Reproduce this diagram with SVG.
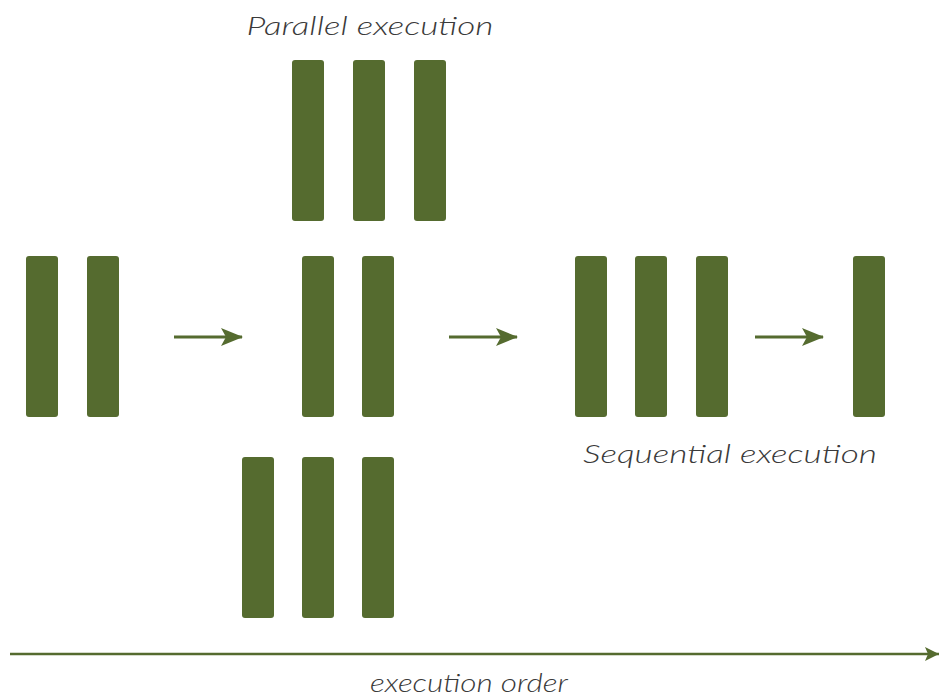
<svg xmlns="http://www.w3.org/2000/svg" width="940" height="698" viewBox="0 0 940 698">
  <style>
    .bar { fill: #556b2f; }
    .lbl { font-family: Lato, "Open Sans", sans-serif; font-style: italic; font-weight: 300; font-size: 26px; fill: #3a3a3a; }
    .flow { stroke: #556b2f; stroke-width: 3; fill: none; }
    .axis { stroke: #556b2f; stroke-width: 2.5; fill: none; }
  </style>
  <defs>
    <marker id="head" viewBox="0 0 22 18" refX="21" refY="9" markerWidth="22" markerHeight="18" markerUnits="userSpaceOnUse" orient="auto">
      <path d="M0,0 L22,9 L0,18 L5,9 Z" fill="#556b2f"/>
    </marker>
    <marker id="axishead" viewBox="0 0 14 14" refX="14" refY="7" markerWidth="14" markerHeight="14" markerUnits="userSpaceOnUse" orient="auto">
      <path d="M0,0 L14,7 L0,14 L3,7 Z" fill="#556b2f"/>
    </marker>
  </defs>

  <!-- labels -->
  <text class="lbl" x="370" y="35" text-anchor="middle" textLength="247" lengthAdjust="spacingAndGlyphs">Parallel execution</text>
  <text class="lbl" x="730" y="463" text-anchor="middle" textLength="294" lengthAdjust="spacingAndGlyphs">Sequential execution</text>
  <text class="lbl" x="469" y="692" text-anchor="middle" textLength="198" lengthAdjust="spacingAndGlyphs">execution order</text>

  <!-- stage 1: two tasks -->
  <g id="stage1">
    <rect class="bar" x="26" y="256" width="32" height="161" rx="3"/>
    <rect class="bar" x="87" y="256" width="32" height="161" rx="3"/>
  </g>

  <!-- stage 2: parallel groups -->
  <g id="parallel-top">
    <rect class="bar" x="292" y="60" width="32" height="161" rx="3"/>
    <rect class="bar" x="353" y="60" width="32" height="161" rx="3"/>
    <rect class="bar" x="414" y="60" width="32" height="161" rx="3"/>
  </g>
  <g id="parallel-middle">
    <rect class="bar" x="302" y="256" width="32" height="161" rx="3"/>
    <rect class="bar" x="362" y="256" width="32" height="161" rx="3"/>
  </g>
  <g id="parallel-bottom">
    <rect class="bar" x="242" y="457" width="32" height="161" rx="3"/>
    <rect class="bar" x="302" y="457" width="32" height="161" rx="3"/>
    <rect class="bar" x="362" y="457" width="32" height="161" rx="3"/>
  </g>

  <!-- stage 3: sequential group -->
  <g id="sequential">
    <rect class="bar" x="575" y="256" width="32" height="161" rx="3"/>
    <rect class="bar" x="635" y="256" width="32" height="161" rx="3"/>
    <rect class="bar" x="696" y="256" width="32" height="161" rx="3"/>
  </g>

  <!-- stage 4: single task -->
  <g id="stage4">
    <rect class="bar" x="853" y="256" width="32" height="161" rx="3"/>
  </g>

  <!-- connectors -->
  <g id="connectors">
    <line class="flow" x1="174" y1="337" x2="242" y2="337" marker-end="url(#head)"/>
    <line class="flow" x1="449" y1="337" x2="517" y2="337" marker-end="url(#head)"/>
    <line class="flow" x1="755" y1="337" x2="823" y2="337" marker-end="url(#head)"/>
    <line class="axis" x1="10" y1="654" x2="939" y2="654" marker-end="url(#axishead)"/>
  </g>
</svg>
